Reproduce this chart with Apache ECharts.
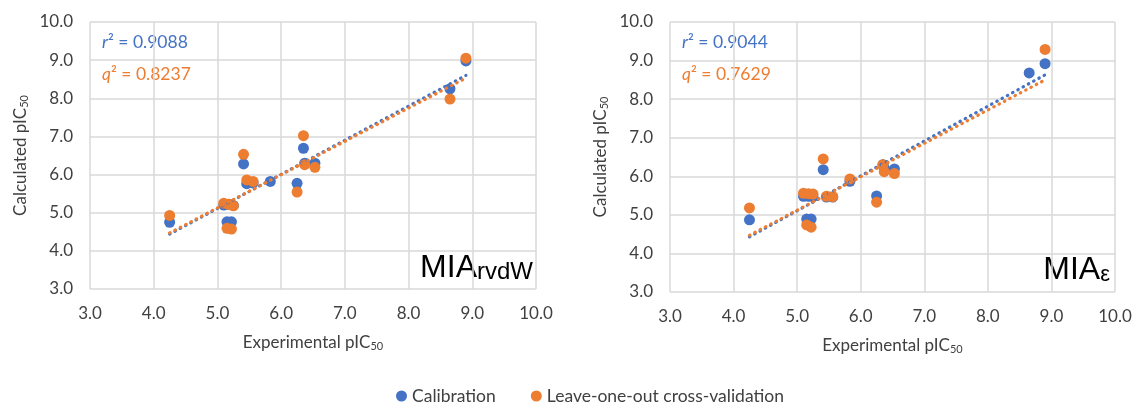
<!DOCTYPE html>
<html>
<head>
<meta charset="utf-8">
<script src="https://cdn.jsdelivr.net/npm/echarts@6/dist/echarts.min.js"></script>
<style>
  html, body { margin: 0; padding: 0; background: #fff; }
  #chart { width: 1136px; height: 403px; }
</style>
</head>
<body>
<div id="chart"></div>
<script>
// Experimental pIC50 of the compound set (shared by both models)
const experimental = [4.25, 5.10, 5.15, 5.18, 5.22, 5.25, 5.41, 5.46, 5.56, 5.83, 6.25, 6.35, 6.37, 6.53, 8.65, 8.90];

// MIA rvdW model: calculated pIC50
const rvdwCalibration = [4.75, 5.20, 4.76, 5.22, 4.76, 5.19, 6.28, 5.76, 5.78, 5.82, 5.77, 6.69, 6.30, 6.30, 8.25, 8.98];
const rvdwLoo         = [4.93, 5.25, 4.59, 5.22, 4.57, 5.18, 6.53, 5.86, 5.82, null, 5.54, 7.02, 6.26, 6.19, 7.98, 9.05];

// MIA epsilon model: calculated pIC50
const epsCalibration = [4.87, 5.48, 4.89, 5.48, 4.89, 5.47, 6.17, 5.46, 5.46, 5.87, 5.49, 6.30, 6.22, 6.19, 8.68, 8.92];
const epsLoo         = [5.18, 5.56, 4.74, 5.55, 4.68, 5.54, 6.45, 5.48, 5.47, 5.93, 5.33, 6.30, 6.12, 6.07, null, 9.29];

// Linear trendline end points [x, y]
const rvdwTrendCalibration = [[4.25, 4.44], [8.90, 8.60]];
const rvdwTrendLoo         = [[4.25, 4.47], [8.90, 8.53]];
const epsTrendCalibration  = [[4.25, 4.43], [8.90, 8.63]];
const epsTrendLoo          = [[4.25, 4.47], [8.90, 8.50]];

// Statistics
const rvdwStats = { r2: '0.9088', q2: '0.8237' };
const epsStats  = { r2: '0.9044', q2: '0.7629' };

// Axis range
const axisMin = 3, axisMax = 10, axisStep = 1;

const seriesNames = ['Calibration', 'Leave-one-out cross-validation'];
const BLUE = '#4472C4', ORANGE = '#ED7D31';
const FONT = 'Lato, "Open Sans", sans-serif';
const TEXT = '#404040';

function pairs(xs, ys) {
  const out = [];
  xs.forEach((x, i) => { if (ys[i] != null) out.push([x, ys[i]]); });
  return out;
}

const axisTitleRich = {
  a: { fontSize: 17, fontFamily: FONT, color: TEXT },
  b: { fontSize: 11, fontFamily: FONT, color: TEXT, verticalAlign: 'bottom', padding: [7, 0, 0, 0] }
};

function xAxisFor(gridIndex) {
  return {
    type: 'value', gridIndex, min: axisMin, max: axisMax, interval: axisStep,
    name: '{a|Experimental pIC}{b|50}', nameLocation: 'middle', nameGap: 45,
    nameTextStyle: { rich: axisTitleRich },
    axisLine: { show: false }, axisTick: { show: false },
    axisLabel: { fontSize: 17, fontFamily: FONT, color: TEXT, margin: 16, formatter: v => v.toFixed(1) },
    splitLine: { show: true, lineStyle: { color: '#d9d9d9', width: 1.5 } }
  };
}
function yAxisFor(gridIndex) {
  return {
    type: 'value', gridIndex, min: axisMin, max: axisMax, interval: axisStep,
    name: '{a|Calculated pIC}{b|50}', nameLocation: 'middle', nameGap: 60, nameRotate: 90,
    nameTextStyle: { rich: axisTitleRich },
    axisLine: { show: false }, axisTick: { show: false },
    axisLabel: { fontSize: 17, fontFamily: FONT, color: TEXT, margin: 17, formatter: v => v.toFixed(1) },
    splitLine: { show: true, lineStyle: { color: '#d9d9d9', width: 1.5 } }
  };
}

function scatter(name, idx, data, color) {
  return {
    name, type: 'scatter', xAxisIndex: idx, yAxisIndex: idx, data,
    symbol: 'circle', symbolSize: 11, itemStyle: { color, opacity: 1 }, z: 3
  };
}
function trend(idx, data, color) {
  return {
    type: 'line', xAxisIndex: idx, yAxisIndex: idx, data, symbol: 'none',
    lineStyle: { color, width: 3.2, type: [0.5, 5.5], cap: 'round' },
    silent: true, z: 4, legendHoverLink: false, tooltip: { show: false }
  };
}

function statText(x, stats) {
  return [
    { type: 'text', left: x, top: 33, style: {
        text: '{i|r}{n|² = ' + stats.r2 + '}', fill: BLUE,
        rich: { i: { fontStyle: 'italic', fontSize: 17.5, fontFamily: FONT, color: BLUE },
                n: { fontSize: 17.5, fontFamily: FONT, color: BLUE } } } },
    { type: 'text', left: x, top: 65, style: {
        text: '{i|q}{n|² = ' + stats.q2 + '}', fill: ORANGE,
        rich: { i: { fontStyle: 'italic', fontSize: 17.5, fontFamily: FONT, color: ORANGE },
                n: { fontSize: 17.5, fontFamily: FONT, color: ORANGE } } } }
  ];
}
function modelLabel(right, bottom, sub, subSize) {
  return {
    type: 'text', right, bottom, style: {
      text: '{m|MIA}{s|' + sub + '}',
      rich: {
        m: { fontSize: 32, fontFamily: '"Liberation Sans", Arial, sans-serif', color: '#000', verticalAlign: 'bottom' },
        s: { fontSize: subSize, fontFamily: '"Liberation Sans", Arial, sans-serif', color: '#000', verticalAlign: 'bottom' }
      }
    }
  };
}

const chart = echarts.init(document.getElementById('chart'), null, { renderer: 'canvas' });
chart.setOption({
  backgroundColor: '#ffffff',
  animation: false,
  grid: [
    { left: 90, top: 22, width: 446, height: 267 },
    { left: 670, top: 22, width: 445, height: 270 }
  ],
  xAxis: [xAxisFor(0), xAxisFor(1)],
  yAxis: [yAxisFor(0), yAxisFor(1)],
  legend: {
    data: seriesNames, left: 396, top: 387, padding: 0, icon: 'circle', itemWidth: 11, itemHeight: 11,
    itemGap: 35, textStyle: { fontSize: 17.5, fontFamily: FONT, color: TEXT }
  },
  series: [
    scatter(seriesNames[0], 0, pairs(experimental, rvdwCalibration), BLUE),
    scatter(seriesNames[1], 0, pairs(experimental, rvdwLoo), ORANGE),
    trend(0, rvdwTrendCalibration, BLUE),
    trend(0, rvdwTrendLoo, ORANGE),
    scatter(seriesNames[0], 1, pairs(experimental, epsCalibration), BLUE),
    scatter(seriesNames[1], 1, pairs(experimental, epsLoo), ORANGE),
    trend(1, epsTrendCalibration, BLUE),
    trend(1, epsTrendLoo, ORANGE)
  ],
  graphic: [
    ...statText(102, rvdwStats),
    ...statText(682, epsStats),
    modelLabel(1136 - 533, 403 - 284, 'rvdW', 24),
    modelLabel(1136 - 1110, 403 - 286, 'ε', 22)
  ]
});
</script>
</body>
</html>
